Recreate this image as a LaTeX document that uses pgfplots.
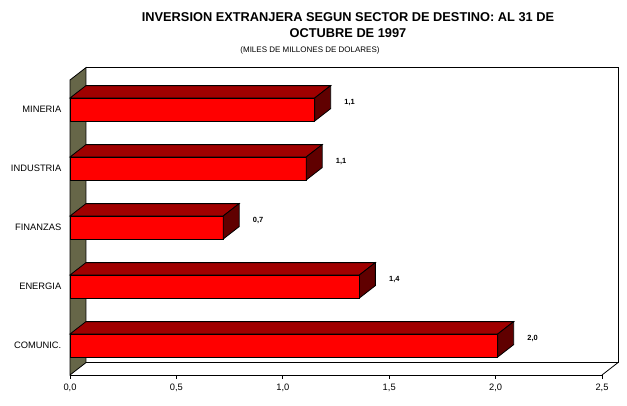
\documentclass[border=0pt]{standalone}
\usepackage{pgfplots}
\pgfplotsset{compat=1.18}
\usepackage{fontspec}
\setmainfont{Liberation Sans}
\definecolor{frontred}{RGB}{255,0,0}
\definecolor{topred}{RGB}{160,0,0}
\definecolor{sidered}{RGB}{96,0,0}
\definecolor{wall}{RGB}{102,102,72}
\begin{document}
\begin{tikzpicture}
\useasboundingbox (0,0) rectangle (470.25pt,304.5pt);
\node[font=\bfseries\fontsize{9.6}{11}\selectfont, inner sep=0] at (261pt,291.75pt) {INVERSION EXTRANJERA SEGUN SECTOR DE DESTINO: AL 31 DE};
\node[font=\bfseries\fontsize{9.6}{11}\selectfont, inner sep=0] at (261pt,279.5pt) {OCTUBRE DE 1997};
\node[font=\fontsize{6}{7}\selectfont, inner sep=0] at (232.5pt,267pt) {(MILES DE MILLONES DE DOLARES)};
\begin{axis}[
  at={(52.5pt,23.25pt)}, anchor=south west,
  scale only axis, width=399pt, height=221.25pt,
  xmin=0, xmax=2.5, ymin=-0.5, ymax=4.5,
  clip=false,
  axis x line*=bottom, axis y line*=left,
  axis line style={line width=0.6pt},
  tick align=outside,
  major tick length=3pt,
  xtick={0,0.5,1,1.5,2,2.5},
  xticklabel style={font=\fontsize{7}{8}\selectfont},
  /pgf/number format/.cd, use comma, fixed, fixed zerofill, precision=1, assume math mode=true,
  /pgfplots/.cd,
  ytick={0,1,2,3,4},
  yticklabels={COMUNIC.,ENERGIA,FINANZAS,INDUSTRIA,MINERIA},
  yticklabel style={font=\fontsize{7}{8}\selectfont},
  ytick style={draw=none},
  extra y ticks={-0.5,0.5,1.5,2.5,3.5,4.5},
  extra y tick labels={},
  extra y tick style={tick style={draw=black, line width=0.6pt}},
  every tick/.style={black, line width=0.6pt},
]
% walls and floor
\addplot[draw=black, line width=0.6pt] coordinates {(0.075,4.71) (2.575,4.71) (2.575,-0.29) (0.075,-0.29)};
\addplot[draw=black, line width=0.6pt] coordinates {(2.5,-0.5) (2.575,-0.29)};
\addplot[fill=wall, draw=black, line width=0.6pt] coordinates {(0,-0.5) (0.075,-0.29) (0.075,4.71) (0,4.5)} -- cycle;
% front faces
\addplot[xbar, bar width=0.39, bar shift=0pt, fill=frontred, draw=black, line width=0.6pt,
  point meta=explicit symbolic,
  nodes near coords,
  every node near coord/.append style={font=\bfseries\fontsize{5.6}{6}\selectfont, anchor=west, inner sep=0pt, xshift=22pt, yshift=4.9pt}]
  coordinates {(2.01,0)[2,0] (1.36,1)[1,4] (0.72,2)[0,7] (1.11,3)[1,1] (1.15,4)[1,1]};
% top faces
\addplot[fill=topred, draw=black, line width=0.6pt] coordinates {(0,4.195) (1.15,4.195) (1.225,4.405) (0.075,4.405)} -- cycle;
\addplot[fill=topred, draw=black, line width=0.6pt] coordinates {(0,3.195) (1.11,3.195) (1.185,3.405) (0.075,3.405)} -- cycle;
\addplot[fill=topred, draw=black, line width=0.6pt] coordinates {(0,2.195) (0.72,2.195) (0.795,2.405) (0.075,2.405)} -- cycle;
\addplot[fill=topred, draw=black, line width=0.6pt] coordinates {(0,1.195) (1.36,1.195) (1.435,1.405) (0.075,1.405)} -- cycle;
\addplot[fill=topred, draw=black, line width=0.6pt] coordinates {(0,0.195) (2.01,0.195) (2.085,0.405) (0.075,0.405)} -- cycle;
% side faces
\addplot[fill=sidered, draw=black, line width=0.6pt] coordinates {(1.15,3.805) (1.225,4.015) (1.225,4.405) (1.15,4.195)} -- cycle;
\addplot[fill=sidered, draw=black, line width=0.6pt] coordinates {(1.11,2.805) (1.185,3.015) (1.185,3.405) (1.11,3.195)} -- cycle;
\addplot[fill=sidered, draw=black, line width=0.6pt] coordinates {(0.72,1.805) (0.795,2.015) (0.795,2.405) (0.72,2.195)} -- cycle;
\addplot[fill=sidered, draw=black, line width=0.6pt] coordinates {(1.36,0.805) (1.435,1.015) (1.435,1.405) (1.36,1.195)} -- cycle;
\addplot[fill=sidered, draw=black, line width=0.6pt] coordinates {(2.01,-0.195) (2.085,0.015) (2.085,0.405) (2.01,0.195)} -- cycle;
\end{axis}
\end{tikzpicture}
\end{document}
